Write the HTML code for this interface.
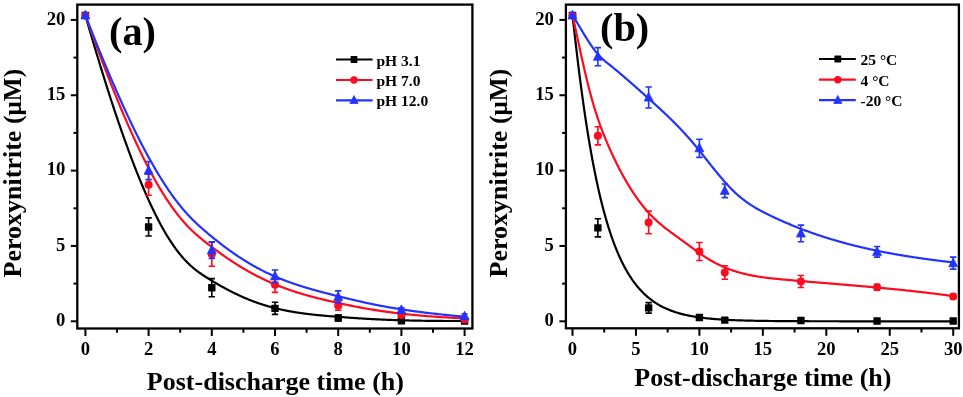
<!DOCTYPE html>
<html><head><meta charset="utf-8"><style>
html,body{margin:0;padding:0;background:#fff;}
body{width:963px;height:397px;overflow:hidden;}
svg{display:block;filter:blur(0.35px);}
text{font-family:"Liberation Serif",serif;font-weight:bold;fill:#000;}
.tk{font-size:18.6px;}
.lg{font-size:15.5px;}
.pl{font-size:40.3px;}
.ax{font-size:26px;}
</style></head><body>
<svg width="963" height="397" viewBox="0 0 963 397">
<rect width="963" height="397" fill="#fff"/>
<rect x="77.30" y="4.60" width="395.10" height="323.90" fill="none" stroke="#000" stroke-width="2.3"/>
<path d="M70.80,321.30 H77.30" stroke="#000" stroke-width="2"/>
<text x="65.30" y="326.10" class="tk" text-anchor="end">0</text>
<path d="M70.80,245.95 H77.30" stroke="#000" stroke-width="2"/>
<text x="65.30" y="250.75" class="tk" text-anchor="end">5</text>
<path d="M70.80,170.60 H77.30" stroke="#000" stroke-width="2"/>
<text x="65.30" y="175.40" class="tk" text-anchor="end">10</text>
<path d="M70.80,95.25 H77.30" stroke="#000" stroke-width="2"/>
<text x="65.30" y="100.05" class="tk" text-anchor="end">15</text>
<path d="M70.80,19.90 H77.30" stroke="#000" stroke-width="2"/>
<text x="65.30" y="24.70" class="tk" text-anchor="end">20</text>
<path d="M73.50,283.62 H77.30" stroke="#000" stroke-width="2"/>
<path d="M73.50,208.28 H77.30" stroke="#000" stroke-width="2"/>
<path d="M73.50,132.93 H77.30" stroke="#000" stroke-width="2"/>
<path d="M73.50,57.57 H77.30" stroke="#000" stroke-width="2"/>
<path d="M85.40,328.50 V336.00" stroke="#000" stroke-width="2"/>
<path d="M148.60,328.50 V336.00" stroke="#000" stroke-width="2"/>
<path d="M211.80,328.50 V336.00" stroke="#000" stroke-width="2"/>
<path d="M275.00,328.50 V336.00" stroke="#000" stroke-width="2"/>
<path d="M338.20,328.50 V336.00" stroke="#000" stroke-width="2"/>
<path d="M401.40,328.50 V336.00" stroke="#000" stroke-width="2"/>
<path d="M464.60,328.50 V336.00" stroke="#000" stroke-width="2"/>
<path d="M117.00,328.50 V332.70" stroke="#000" stroke-width="2"/>
<path d="M180.20,328.50 V332.70" stroke="#000" stroke-width="2"/>
<path d="M243.40,328.50 V332.70" stroke="#000" stroke-width="2"/>
<path d="M306.60,328.50 V332.70" stroke="#000" stroke-width="2"/>
<path d="M369.80,328.50 V332.70" stroke="#000" stroke-width="2"/>
<path d="M433.00,328.50 V332.70" stroke="#000" stroke-width="2"/>
<text x="85.40" y="355.30" class="tk" text-anchor="middle">0</text>
<text x="148.60" y="355.30" class="tk" text-anchor="middle">2</text>
<text x="211.80" y="355.30" class="tk" text-anchor="middle">4</text>
<text x="275.00" y="355.30" class="tk" text-anchor="middle">6</text>
<text x="338.20" y="355.30" class="tk" text-anchor="middle">8</text>
<text x="401.40" y="355.30" class="tk" text-anchor="middle">10</text>
<text x="464.60" y="355.30" class="tk" text-anchor="middle">12</text>
<path d="M85.40,15.38 L86.91,20.65 L88.42,25.84 L89.91,30.96 L91.38,36.01 L92.85,40.98 L94.30,45.88 L95.75,50.71 L97.18,55.47 L98.60,60.15 L100.00,64.77 L101.40,69.31 L102.78,73.79 L104.16,78.20 L105.52,82.54 L106.87,86.81 L108.21,91.02 L109.54,95.15 L110.86,99.23 L112.17,103.24 L113.47,107.18 L114.76,111.06 L116.03,114.88 L117.30,118.63 L118.55,122.32 L119.80,125.95 L121.04,129.52 L122.26,133.03 L123.48,136.48 L124.68,139.87 L125.88,143.20 L127.07,146.47 L128.24,149.69 L129.41,152.84 L130.57,155.94 L131.71,158.99 L132.85,161.98 L133.98,164.92 L135.10,167.80 L136.21,170.63 L137.32,173.40 L138.41,176.13 L139.49,178.80 L140.57,181.42 L141.64,183.99 L142.69,186.51 L143.74,188.98 L144.78,191.40 L145.82,193.77 L146.84,196.10 L147.86,198.37 L148.87,200.61 L149.87,202.79 L150.86,204.93 L151.84,207.03 L152.82,209.08 L153.79,211.09 L154.75,213.05 L155.71,214.97 L156.65,216.85 L157.59,218.69 L158.52,220.49 L159.45,222.25 L160.36,223.97 L161.27,225.65 L162.18,227.29 L163.07,228.89 L163.96,230.46 L164.85,231.99 L165.72,233.48 L166.59,234.94 L167.46,236.37 L168.31,237.75 L169.16,239.11 L170.01,240.43 L170.85,241.72 L171.68,242.98 L172.50,244.21 L173.32,245.40 L174.14,246.57 L174.95,247.70 L175.75,248.81 L176.55,249.89 L177.34,250.94 L178.12,251.96 L178.90,252.95 L179.68,253.92 L180.45,254.87 L181.22,255.79 L181.98,256.68 L182.73,257.55 L183.48,258.40 L184.23,259.23 L184.97,260.03 L185.71,260.81 L186.44,261.57 L187.17,262.31 L187.89,263.03 L188.61,263.73 L189.32,264.41 L190.03,265.08 L190.74,265.72 L191.44,266.35 L192.14,266.97 L192.83,267.56 L193.53,268.15 L194.21,268.72 L194.90,269.27 L195.58,269.81 L196.25,270.34 L196.93,270.85 L197.60,271.36 L198.27,271.85 L198.93,272.33 L199.59,272.81 L200.25,273.27 L200.91,273.73 L201.56,274.17 L202.21,274.61 L202.86,275.04 L203.50,275.47 L204.14,275.89 L204.78,276.30 L205.42,276.71 L206.06,277.12 L206.69,277.52 L207.32,277.92 L207.95,278.31 L208.58,278.71 L209.21,279.10 L209.83,279.48 L210.45,279.87 L211.07,280.25 L211.69,280.63 L212.31,281.00 L212.92,281.37 L213.53,281.74 L214.14,282.11 L214.75,282.47 L215.36,282.83 L215.96,283.19 L216.57,283.54 L217.17,283.89 L217.77,284.24 L218.37,284.59 L218.96,284.93 L219.56,285.27 L220.15,285.61 L220.74,285.95 L221.33,286.28 L221.92,286.61 L222.51,286.93 L223.09,287.26 L223.67,287.58 L224.26,287.90 L224.84,288.21 L225.41,288.53 L225.99,288.84 L226.57,289.15 L227.14,289.45 L227.71,289.75 L228.28,290.05 L228.85,290.35 L229.42,290.65 L229.99,290.94 L230.55,291.23 L231.12,291.52 L231.68,291.80 L232.24,292.08 L232.80,292.36 L233.36,292.64 L233.92,292.92 L234.47,293.19 L235.03,293.46 L235.58,293.73 L236.14,293.99 L236.69,294.26 L237.24,294.52 L237.79,294.78 L238.33,295.03 L238.88,295.29 L239.43,295.54 L239.97,295.79 L240.51,296.03 L241.05,296.28 L241.60,296.52 L242.14,296.76 L242.67,297.00 L243.21,297.24 L243.75,297.47 L244.29,297.70 L244.82,297.93 L245.35,298.16 L245.89,298.38 L246.42,298.61 L246.95,298.83 L247.48,299.05 L248.01,299.26 L248.54,299.48 L249.07,299.69 L249.59,299.90 L250.12,300.11 L250.65,300.32 L251.17,300.52 L251.69,300.72 L252.22,300.93 L252.74,301.12 L253.26,301.32 L253.78,301.52 L254.30,301.71 L254.82,301.90 L255.34,302.09 L255.86,302.28 L256.38,302.46 L256.89,302.65 L257.41,302.83 L257.93,303.01 L258.44,303.19 L258.96,303.36 L259.47,303.54 L259.99,303.71 L260.50,303.88 L261.01,304.05 L261.52,304.22 L262.04,304.39 L262.55,304.55 L263.06,304.71 L263.57,304.88 L264.08,305.04 L264.59,305.19 L265.10,305.35 L265.61,305.51 L266.12,305.66 L266.63,305.81 L267.14,305.96 L267.65,306.11 L268.15,306.26 L268.66,306.40 L269.17,306.55 L269.68,306.69 L270.18,306.83 L270.69,306.97 L271.20,307.11 L271.71,307.24 L272.21,307.38 L272.72,307.51 L273.23,307.65 L273.73,307.78 L274.24,307.91 L274.75,308.04 L275.25,308.16 L275.76,308.29 L276.27,308.42 L276.77,308.54 L277.28,308.66 L277.79,308.78 L278.29,308.90 L278.80,309.02 L279.31,309.14 L279.82,309.25 L280.32,309.37 L280.83,309.48 L281.34,309.59 L281.85,309.71 L282.35,309.82 L282.86,309.92 L283.37,310.03 L283.88,310.14 L284.39,310.24 L284.90,310.35 L285.41,310.45 L285.92,310.55 L286.43,310.66 L286.94,310.76 L287.45,310.85 L287.96,310.95 L288.48,311.05 L288.99,311.15 L289.50,311.24 L290.01,311.33 L290.53,311.43 L291.04,311.52 L291.56,311.61 L292.07,311.70 L292.59,311.79 L293.11,311.88 L293.62,311.96 L294.14,312.05 L294.66,312.13 L295.18,312.22 L295.70,312.30 L296.22,312.38 L296.74,312.47 L297.26,312.55 L297.78,312.63 L298.31,312.71 L298.83,312.78 L299.35,312.86 L299.88,312.94 L300.41,313.01 L300.93,313.09 L301.46,313.16 L301.99,313.24 L302.52,313.31 L303.05,313.38 L303.58,313.45 L304.11,313.52 L304.65,313.59 L305.18,313.66 L305.71,313.73 L306.25,313.80 L306.79,313.87 L307.33,313.93 L307.86,314.00 L308.40,314.07 L308.95,314.13 L309.49,314.19 L310.03,314.26 L310.57,314.32 L311.12,314.38 L311.67,314.44 L312.21,314.51 L312.76,314.57 L313.31,314.63 L313.86,314.69 L314.42,314.74 L314.97,314.80 L315.53,314.86 L316.08,314.92 L316.64,314.98 L317.20,315.03 L317.76,315.09 L318.32,315.14 L318.88,315.20 L319.45,315.25 L320.01,315.31 L320.58,315.36 L321.15,315.42 L321.72,315.47 L322.29,315.52 L322.86,315.57 L323.43,315.63 L324.01,315.68 L324.59,315.73 L325.16,315.78 L325.74,315.83 L326.33,315.88 L326.91,315.93 L327.49,315.98 L328.08,316.03 L328.67,316.08 L329.26,316.13 L329.85,316.18 L330.44,316.23 L331.04,316.28 L331.63,316.33 L332.23,316.37 L332.83,316.42 L333.43,316.47 L334.04,316.52 L334.64,316.57 L335.25,316.61 L335.86,316.66 L336.47,316.71 L337.08,316.75 L337.69,316.80 L338.31,316.85 L338.93,316.89 L339.55,316.94 L340.17,316.99 L340.79,317.04 L341.42,317.08 L342.05,317.13 L342.68,317.18 L343.31,317.22 L343.94,317.27 L344.58,317.32 L345.22,317.36 L345.86,317.41 L346.50,317.46 L347.14,317.50 L347.79,317.55 L348.44,317.60 L349.09,317.64 L349.75,317.69 L350.41,317.74 L351.07,317.78 L351.73,317.83 L352.40,317.87 L353.07,317.92 L353.75,317.97 L354.42,318.01 L355.10,318.06 L355.79,318.10 L356.47,318.15 L357.17,318.20 L357.86,318.24 L358.56,318.29 L359.26,318.33 L359.97,318.38 L360.68,318.42 L361.39,318.47 L362.11,318.51 L362.83,318.56 L363.56,318.60 L364.29,318.65 L365.03,318.69 L365.77,318.73 L366.52,318.78 L367.27,318.82 L368.02,318.86 L368.78,318.91 L369.55,318.95 L370.32,318.99 L371.10,319.03 L371.88,319.07 L372.66,319.12 L373.45,319.16 L374.25,319.20 L375.05,319.24 L375.86,319.28 L376.68,319.32 L377.50,319.36 L378.32,319.40 L379.15,319.44 L379.99,319.48 L380.84,319.52 L381.69,319.56 L382.54,319.59 L383.41,319.63 L384.28,319.67 L385.15,319.71 L386.04,319.74 L386.93,319.78 L387.82,319.81 L388.73,319.85 L389.64,319.88 L390.55,319.92 L391.48,319.95 L392.41,319.99 L393.35,320.02 L394.29,320.05 L395.25,320.09 L396.21,320.12 L397.18,320.15 L398.16,320.18 L399.14,320.21 L400.13,320.24 L401.13,320.27 L402.14,320.30 L403.16,320.33 L404.18,320.36 L405.22,320.39 L406.26,320.41 L407.31,320.44 L408.36,320.47 L409.43,320.49 L410.51,320.52 L411.59,320.54 L412.68,320.57 L413.79,320.59 L414.90,320.61 L416.02,320.63 L417.15,320.66 L418.29,320.68 L419.43,320.70 L420.59,320.72 L421.76,320.74 L422.93,320.76 L424.12,320.77 L425.32,320.79 L426.52,320.81 L427.74,320.83 L428.96,320.84 L430.20,320.86 L431.45,320.87 L432.70,320.88 L433.97,320.90 L435.24,320.91 L436.53,320.92 L437.83,320.93 L439.14,320.94 L440.46,320.95 L441.79,320.96 L443.13,320.97 L444.48,320.98 L445.84,320.98 L447.22,320.99 L448.60,320.99 L450.00,321.00 L451.40,321.00 L452.82,321.00 L454.25,321.01 L455.70,321.01 L457.15,321.01 L458.62,321.01 L460.09,321.01 L461.58,321.00 L463.09,321.00 L464.60,321.00" stroke="#000000" stroke-width="2.2" fill="none"/>
<path d="M85.40,15.38 L86.91,19.63 L88.42,23.83 L89.91,27.97 L91.38,32.05 L92.85,36.08 L94.30,40.05 L95.75,43.97 L97.18,47.83 L98.60,51.64 L100.00,55.40 L101.40,59.10 L102.78,62.75 L104.16,66.34 L105.52,69.89 L106.87,73.38 L108.21,76.83 L109.54,80.22 L110.86,83.56 L112.17,86.86 L113.47,90.10 L114.76,93.29 L116.03,96.44 L117.30,99.54 L118.55,102.59 L119.80,105.59 L121.04,108.55 L122.26,111.46 L123.48,114.33 L124.68,117.15 L125.88,119.92 L127.07,122.65 L128.24,125.34 L129.41,127.99 L130.57,130.59 L131.71,133.14 L132.85,135.66 L133.98,138.13 L135.10,140.56 L136.21,142.95 L137.32,145.31 L138.41,147.62 L139.49,149.89 L140.57,152.12 L141.64,154.31 L142.69,156.47 L143.74,158.58 L144.78,160.66 L145.82,162.70 L146.84,164.71 L147.86,166.68 L148.87,168.61 L149.87,170.51 L150.86,172.37 L151.84,174.20 L152.82,176.00 L153.79,177.76 L154.75,179.48 L155.71,181.18 L156.65,182.84 L157.59,184.47 L158.52,186.07 L159.45,187.64 L160.36,189.18 L161.27,190.69 L162.18,192.17 L163.07,193.62 L163.96,195.04 L164.85,196.43 L165.72,197.80 L166.59,199.13 L167.46,200.44 L168.31,201.73 L169.16,202.98 L170.01,204.21 L170.85,205.42 L171.68,206.60 L172.50,207.76 L173.32,208.89 L174.14,210.00 L174.95,211.09 L175.75,212.15 L176.55,213.19 L177.34,214.21 L178.12,215.21 L178.90,216.18 L179.68,217.14 L180.45,218.08 L181.22,218.99 L181.98,219.89 L182.73,220.77 L183.48,221.63 L184.23,222.47 L184.97,223.30 L185.71,224.10 L186.44,224.89 L187.17,225.67 L187.89,226.43 L188.61,227.17 L189.32,227.90 L190.03,228.62 L190.74,229.32 L191.44,230.00 L192.14,230.68 L192.83,231.34 L193.53,231.99 L194.21,232.62 L194.90,233.25 L195.58,233.86 L196.25,234.47 L196.93,235.06 L197.60,235.65 L198.27,236.22 L198.93,236.79 L199.59,237.35 L200.25,237.90 L200.91,238.44 L201.56,238.97 L202.21,239.50 L202.86,240.03 L203.50,240.54 L204.14,241.05 L204.78,241.56 L205.42,242.06 L206.06,242.56 L206.69,243.06 L207.32,243.55 L207.95,244.04 L208.58,244.52 L209.21,245.00 L209.83,245.48 L210.45,245.96 L211.07,246.43 L211.69,246.90 L212.31,247.37 L212.92,247.83 L213.53,248.29 L214.14,248.74 L214.75,249.20 L215.36,249.65 L215.96,250.10 L216.57,250.54 L217.17,250.98 L217.77,251.42 L218.37,251.86 L218.96,252.29 L219.56,252.72 L220.15,253.15 L220.74,253.57 L221.33,253.99 L221.92,254.41 L222.51,254.83 L223.09,255.24 L223.67,255.65 L224.26,256.06 L224.84,256.46 L225.41,256.86 L225.99,257.26 L226.57,257.66 L227.14,258.05 L227.71,258.44 L228.28,258.83 L228.85,259.21 L229.42,259.59 L229.99,259.97 L230.55,260.35 L231.12,260.73 L231.68,261.10 L232.24,261.47 L232.80,261.83 L233.36,262.20 L233.92,262.56 L234.47,262.92 L235.03,263.28 L235.58,263.63 L236.14,263.98 L236.69,264.33 L237.24,264.68 L237.79,265.02 L238.33,265.36 L238.88,265.70 L239.43,266.04 L239.97,266.38 L240.51,266.71 L241.05,267.04 L241.60,267.37 L242.14,267.69 L242.67,268.01 L243.21,268.33 L243.75,268.65 L244.29,268.97 L244.82,269.28 L245.35,269.60 L245.89,269.91 L246.42,270.21 L246.95,270.52 L247.48,270.82 L248.01,271.12 L248.54,271.42 L249.07,271.72 L249.59,272.01 L250.12,272.31 L250.65,272.60 L251.17,272.89 L251.69,273.17 L252.22,273.46 L252.74,273.74 L253.26,274.02 L253.78,274.30 L254.30,274.58 L254.82,274.85 L255.34,275.12 L255.86,275.40 L256.38,275.66 L256.89,275.93 L257.41,276.20 L257.93,276.46 L258.44,276.72 L258.96,276.98 L259.47,277.24 L259.99,277.50 L260.50,277.75 L261.01,278.00 L261.52,278.26 L262.04,278.51 L262.55,278.75 L263.06,279.00 L263.57,279.24 L264.08,279.49 L264.59,279.73 L265.10,279.97 L265.61,280.21 L266.12,280.44 L266.63,280.68 L267.14,280.91 L267.65,281.14 L268.15,281.37 L268.66,281.60 L269.17,281.83 L269.68,282.05 L270.18,282.28 L270.69,282.50 L271.20,282.72 L271.71,282.94 L272.21,283.16 L272.72,283.38 L273.23,283.59 L273.73,283.81 L274.24,284.02 L274.75,284.23 L275.25,284.44 L275.76,284.65 L276.27,284.86 L276.77,285.07 L277.28,285.27 L277.79,285.48 L278.29,285.68 L278.80,285.88 L279.31,286.08 L279.82,286.28 L280.32,286.48 L280.83,286.68 L281.34,286.87 L281.85,287.07 L282.35,287.26 L282.86,287.45 L283.37,287.64 L283.88,287.83 L284.39,288.02 L284.90,288.21 L285.41,288.40 L285.92,288.58 L286.43,288.77 L286.94,288.95 L287.45,289.14 L287.96,289.32 L288.48,289.50 L288.99,289.68 L289.50,289.86 L290.01,290.03 L290.53,290.21 L291.04,290.39 L291.56,290.56 L292.07,290.74 L292.59,290.91 L293.11,291.08 L293.62,291.25 L294.14,291.42 L294.66,291.59 L295.18,291.76 L295.70,291.93 L296.22,292.09 L296.74,292.26 L297.26,292.42 L297.78,292.59 L298.31,292.75 L298.83,292.92 L299.35,293.08 L299.88,293.24 L300.41,293.40 L300.93,293.56 L301.46,293.72 L301.99,293.88 L302.52,294.03 L303.05,294.19 L303.58,294.35 L304.11,294.50 L304.65,294.66 L305.18,294.81 L305.71,294.96 L306.25,295.12 L306.79,295.27 L307.33,295.42 L307.86,295.57 L308.40,295.72 L308.95,295.87 L309.49,296.02 L310.03,296.17 L310.57,296.32 L311.12,296.46 L311.67,296.61 L312.21,296.76 L312.76,296.90 L313.31,297.05 L313.86,297.19 L314.42,297.34 L314.97,297.48 L315.53,297.63 L316.08,297.77 L316.64,297.91 L317.20,298.05 L317.76,298.20 L318.32,298.34 L318.88,298.48 L319.45,298.62 L320.01,298.76 L320.58,298.90 L321.15,299.04 L321.72,299.18 L322.29,299.32 L322.86,299.46 L323.43,299.59 L324.01,299.73 L324.59,299.87 L325.16,300.01 L325.74,300.15 L326.33,300.28 L326.91,300.42 L327.49,300.56 L328.08,300.69 L328.67,300.83 L329.26,300.97 L329.85,301.10 L330.44,301.24 L331.04,301.37 L331.63,301.51 L332.23,301.64 L332.83,301.78 L333.43,301.91 L334.04,302.05 L334.64,302.18 L335.25,302.32 L335.86,302.45 L336.47,302.59 L337.08,302.72 L337.69,302.86 L338.31,302.99 L338.93,303.13 L339.55,303.26 L340.17,303.40 L340.79,303.53 L341.42,303.66 L342.05,303.80 L342.68,303.93 L343.31,304.07 L343.94,304.20 L344.58,304.34 L345.22,304.47 L345.86,304.61 L346.50,304.74 L347.14,304.88 L347.79,305.01 L348.44,305.15 L349.09,305.28 L349.75,305.42 L350.41,305.56 L351.07,305.69 L351.73,305.83 L352.40,305.96 L353.07,306.10 L353.75,306.23 L354.42,306.37 L355.10,306.50 L355.79,306.63 L356.47,306.77 L357.17,306.90 L357.86,307.04 L358.56,307.17 L359.26,307.31 L359.97,307.44 L360.68,307.57 L361.39,307.71 L362.11,307.84 L362.83,307.97 L363.56,308.11 L364.29,308.24 L365.03,308.37 L365.77,308.51 L366.52,308.64 L367.27,308.77 L368.02,308.90 L368.78,309.03 L369.55,309.16 L370.32,309.29 L371.10,309.42 L371.88,309.55 L372.66,309.68 L373.45,309.81 L374.25,309.94 L375.05,310.07 L375.86,310.20 L376.68,310.33 L377.50,310.46 L378.32,310.58 L379.15,310.71 L379.99,310.84 L380.84,310.96 L381.69,311.09 L382.54,311.21 L383.41,311.34 L384.28,311.46 L385.15,311.59 L386.04,311.71 L386.93,311.83 L387.82,311.96 L388.73,312.08 L389.64,312.20 L390.55,312.32 L391.48,312.44 L392.41,312.56 L393.35,312.68 L394.29,312.80 L395.25,312.92 L396.21,313.03 L397.18,313.15 L398.16,313.27 L399.14,313.38 L400.13,313.50 L401.13,313.61 L402.14,313.73 L403.16,313.84 L404.18,313.95 L405.22,314.06 L406.26,314.17 L407.31,314.28 L408.36,314.39 L409.43,314.50 L410.51,314.61 L411.59,314.72 L412.68,314.83 L413.79,314.93 L414.90,315.04 L416.02,315.14 L417.15,315.25 L418.29,315.35 L419.43,315.45 L420.59,315.55 L421.76,315.65 L422.93,315.75 L424.12,315.85 L425.32,315.95 L426.52,316.05 L427.74,316.14 L428.96,316.24 L430.20,316.33 L431.45,316.43 L432.70,316.52 L433.97,316.61 L435.24,316.70 L436.53,316.79 L437.83,316.88 L439.14,316.97 L440.46,317.05 L441.79,317.14 L443.13,317.23 L444.48,317.31 L445.84,317.39 L447.22,317.47 L448.60,317.56 L450.00,317.64 L451.40,317.71 L452.82,317.79 L454.25,317.87 L455.70,317.95 L457.15,318.02 L458.62,318.09 L460.09,318.17 L461.58,318.24 L463.09,318.31 L464.60,318.38" stroke="#ff0a1e" stroke-width="2.2" fill="none"/>
<path d="M85.40,15.38 L86.91,19.27 L88.42,23.11 L89.91,26.90 L91.38,30.64 L92.85,34.34 L94.30,37.98 L95.75,41.58 L97.18,45.13 L98.60,48.63 L100.00,52.08 L101.40,55.49 L102.78,58.85 L104.16,62.16 L105.52,65.43 L106.87,68.65 L108.21,71.83 L109.54,74.97 L110.86,78.06 L112.17,81.10 L113.47,84.10 L114.76,87.06 L116.03,89.98 L117.30,92.86 L118.55,95.69 L119.80,98.48 L121.04,101.23 L122.26,103.94 L123.48,106.61 L124.68,109.24 L125.88,111.83 L127.07,114.38 L128.24,116.89 L129.41,119.36 L130.57,121.80 L131.71,124.19 L132.85,126.55 L133.98,128.87 L135.10,131.16 L136.21,133.41 L137.32,135.62 L138.41,137.80 L139.49,139.94 L140.57,142.05 L141.64,144.13 L142.69,146.17 L143.74,148.17 L144.78,150.15 L145.82,152.09 L146.84,153.99 L147.86,155.87 L148.87,157.71 L149.87,159.53 L150.86,161.31 L151.84,163.06 L152.82,164.78 L153.79,166.47 L154.75,168.13 L155.71,169.76 L156.65,171.37 L157.59,172.94 L158.52,174.49 L159.45,176.01 L160.36,177.50 L161.27,178.96 L162.18,180.40 L163.07,181.82 L163.96,183.20 L164.85,184.56 L165.72,185.90 L166.59,187.21 L167.46,188.50 L168.31,189.76 L169.16,191.01 L170.01,192.22 L170.85,193.42 L171.68,194.59 L172.50,195.74 L173.32,196.87 L174.14,197.98 L174.95,199.06 L175.75,200.13 L176.55,201.17 L177.34,202.20 L178.12,203.21 L178.90,204.19 L179.68,205.16 L180.45,206.11 L181.22,207.05 L181.98,207.96 L182.73,208.86 L183.48,209.74 L184.23,210.61 L184.97,211.46 L185.71,212.29 L186.44,213.11 L187.17,213.92 L187.89,214.70 L188.61,215.48 L189.32,216.24 L190.03,216.99 L190.74,217.72 L191.44,218.45 L192.14,219.16 L192.83,219.86 L193.53,220.54 L194.21,221.22 L194.90,221.89 L195.58,222.54 L196.25,223.19 L196.93,223.82 L197.60,224.45 L198.27,225.06 L198.93,225.67 L199.59,226.27 L200.25,226.87 L200.91,227.45 L201.56,228.03 L202.21,228.60 L202.86,229.17 L203.50,229.73 L204.14,230.28 L204.78,230.83 L205.42,231.38 L206.06,231.92 L206.69,232.46 L207.32,232.99 L207.95,233.52 L208.58,234.04 L209.21,234.57 L209.83,235.09 L210.45,235.60 L211.07,236.11 L211.69,236.62 L212.31,237.12 L212.92,237.62 L213.53,238.12 L214.14,238.62 L214.75,239.11 L215.36,239.59 L215.96,240.08 L216.57,240.56 L217.17,241.03 L217.77,241.51 L218.37,241.98 L218.96,242.44 L219.56,242.91 L220.15,243.37 L220.74,243.82 L221.33,244.28 L221.92,244.73 L222.51,245.18 L223.09,245.62 L223.67,246.06 L224.26,246.50 L224.84,246.93 L225.41,247.36 L225.99,247.79 L226.57,248.22 L227.14,248.64 L227.71,249.06 L228.28,249.47 L228.85,249.89 L229.42,250.30 L229.99,250.70 L230.55,251.11 L231.12,251.51 L231.68,251.91 L232.24,252.30 L232.80,252.70 L233.36,253.09 L233.92,253.47 L234.47,253.86 L235.03,254.24 L235.58,254.62 L236.14,254.99 L236.69,255.36 L237.24,255.73 L237.79,256.10 L238.33,256.47 L238.88,256.83 L239.43,257.19 L239.97,257.54 L240.51,257.90 L241.05,258.25 L241.60,258.60 L242.14,258.94 L242.67,259.29 L243.21,259.63 L243.75,259.97 L244.29,260.30 L244.82,260.64 L245.35,260.97 L245.89,261.30 L246.42,261.62 L246.95,261.95 L247.48,262.27 L248.01,262.59 L248.54,262.90 L249.07,263.22 L249.59,263.53 L250.12,263.84 L250.65,264.15 L251.17,264.45 L251.69,264.76 L252.22,265.06 L252.74,265.36 L253.26,265.65 L253.78,265.95 L254.30,266.24 L254.82,266.53 L255.34,266.82 L255.86,267.10 L256.38,267.39 L256.89,267.67 L257.41,267.95 L257.93,268.22 L258.44,268.50 L258.96,268.77 L259.47,269.04 L259.99,269.31 L260.50,269.58 L261.01,269.85 L261.52,270.11 L262.04,270.37 L262.55,270.63 L263.06,270.89 L263.57,271.15 L264.08,271.40 L264.59,271.65 L265.10,271.91 L265.61,272.15 L266.12,272.40 L266.63,272.65 L267.14,272.89 L267.65,273.13 L268.15,273.38 L268.66,273.61 L269.17,273.85 L269.68,274.09 L270.18,274.32 L270.69,274.55 L271.20,274.79 L271.71,275.02 L272.21,275.24 L272.72,275.47 L273.23,275.70 L273.73,275.92 L274.24,276.14 L274.75,276.36 L275.25,276.58 L275.76,276.80 L276.27,277.02 L276.77,277.23 L277.28,277.45 L277.79,277.66 L278.29,277.87 L278.80,278.08 L279.31,278.29 L279.82,278.49 L280.32,278.70 L280.83,278.91 L281.34,279.11 L281.85,279.31 L282.35,279.51 L282.86,279.71 L283.37,279.91 L283.88,280.11 L284.39,280.31 L284.90,280.50 L285.41,280.70 L285.92,280.89 L286.43,281.08 L286.94,281.27 L287.45,281.46 L287.96,281.65 L288.48,281.84 L288.99,282.02 L289.50,282.21 L290.01,282.40 L290.53,282.58 L291.04,282.76 L291.56,282.94 L292.07,283.12 L292.59,283.30 L293.11,283.48 L293.62,283.66 L294.14,283.84 L294.66,284.02 L295.18,284.19 L295.70,284.37 L296.22,284.54 L296.74,284.71 L297.26,284.89 L297.78,285.06 L298.31,285.23 L298.83,285.40 L299.35,285.57 L299.88,285.74 L300.41,285.90 L300.93,286.07 L301.46,286.24 L301.99,286.40 L302.52,286.57 L303.05,286.73 L303.58,286.90 L304.11,287.06 L304.65,287.22 L305.18,287.38 L305.71,287.54 L306.25,287.71 L306.79,287.87 L307.33,288.03 L307.86,288.18 L308.40,288.34 L308.95,288.50 L309.49,288.66 L310.03,288.82 L310.57,288.97 L311.12,289.13 L311.67,289.29 L312.21,289.44 L312.76,289.60 L313.31,289.75 L313.86,289.91 L314.42,290.06 L314.97,290.21 L315.53,290.37 L316.08,290.52 L316.64,290.67 L317.20,290.83 L317.76,290.98 L318.32,291.13 L318.88,291.28 L319.45,291.44 L320.01,291.59 L320.58,291.74 L321.15,291.89 L321.72,292.04 L322.29,292.19 L322.86,292.34 L323.43,292.49 L324.01,292.64 L324.59,292.79 L325.16,292.94 L325.74,293.09 L326.33,293.24 L326.91,293.39 L327.49,293.54 L328.08,293.69 L328.67,293.84 L329.26,293.99 L329.85,294.14 L330.44,294.29 L331.04,294.44 L331.63,294.59 L332.23,294.74 L332.83,294.90 L333.43,295.05 L334.04,295.20 L334.64,295.35 L335.25,295.50 L335.86,295.65 L336.47,295.80 L337.08,295.95 L337.69,296.10 L338.31,296.26 L338.93,296.41 L339.55,296.56 L340.17,296.71 L340.79,296.87 L341.42,297.02 L342.05,297.17 L342.68,297.33 L343.31,297.48 L343.94,297.64 L344.58,297.79 L345.22,297.95 L345.86,298.10 L346.50,298.26 L347.14,298.42 L347.79,298.57 L348.44,298.73 L349.09,298.89 L349.75,299.05 L350.41,299.20 L351.07,299.36 L351.73,299.52 L352.40,299.68 L353.07,299.84 L353.75,300.00 L354.42,300.16 L355.10,300.32 L355.79,300.48 L356.47,300.64 L357.17,300.80 L357.86,300.96 L358.56,301.12 L359.26,301.28 L359.97,301.44 L360.68,301.60 L361.39,301.76 L362.11,301.92 L362.83,302.08 L363.56,302.24 L364.29,302.41 L365.03,302.57 L365.77,302.73 L366.52,302.89 L367.27,303.05 L368.02,303.21 L368.78,303.38 L369.55,303.54 L370.32,303.70 L371.10,303.86 L371.88,304.02 L372.66,304.18 L373.45,304.35 L374.25,304.51 L375.05,304.67 L375.86,304.83 L376.68,304.99 L377.50,305.15 L378.32,305.32 L379.15,305.48 L379.99,305.64 L380.84,305.80 L381.69,305.96 L382.54,306.12 L383.41,306.28 L384.28,306.44 L385.15,306.60 L386.04,306.76 L386.93,306.92 L387.82,307.08 L388.73,307.24 L389.64,307.40 L390.55,307.56 L391.48,307.72 L392.41,307.88 L393.35,308.04 L394.29,308.20 L395.25,308.36 L396.21,308.52 L397.18,308.67 L398.16,308.83 L399.14,308.99 L400.13,309.15 L401.13,309.30 L402.14,309.46 L403.16,309.61 L404.18,309.77 L405.22,309.92 L406.26,310.08 L407.31,310.23 L408.36,310.39 L409.43,310.54 L410.51,310.70 L411.59,310.85 L412.68,311.00 L413.79,311.15 L414.90,311.31 L416.02,311.46 L417.15,311.61 L418.29,311.76 L419.43,311.91 L420.59,312.06 L421.76,312.21 L422.93,312.36 L424.12,312.50 L425.32,312.65 L426.52,312.80 L427.74,312.95 L428.96,313.09 L430.20,313.24 L431.45,313.38 L432.70,313.53 L433.97,313.67 L435.24,313.81 L436.53,313.96 L437.83,314.10 L439.14,314.24 L440.46,314.38 L441.79,314.52 L443.13,314.66 L444.48,314.80 L445.84,314.94 L447.22,315.08 L448.60,315.21 L450.00,315.35 L451.40,315.49 L452.82,315.62 L454.25,315.75 L455.70,315.89 L457.15,316.02 L458.62,316.15 L460.09,316.28 L461.58,316.41 L463.09,316.54 L464.60,316.67" stroke="#2233ff" stroke-width="2.2" fill="none"/>

<rect x="81.70" y="11.68" width="7.40" height="7.40" rx="0.6" fill="#000000"/>
<path d="M148.60,217.92 V236.00 M145.40,217.92 H151.80 M145.40,236.00 H151.80" stroke="#000000" stroke-width="1.6" fill="none"/>
<rect x="144.90" y="223.26" width="7.40" height="7.40" rx="0.6" fill="#000000"/>
<path d="M211.80,278.65 V296.74 M208.60,278.65 H215.00 M208.60,296.74 H215.00" stroke="#000000" stroke-width="1.6" fill="none"/>
<rect x="208.10" y="283.99" width="7.40" height="7.40" rx="0.6" fill="#000000"/>
<path d="M275.00,302.31 V314.37 M271.80,302.31 H278.20 M271.80,314.37 H278.20" stroke="#000000" stroke-width="1.6" fill="none"/>
<rect x="271.30" y="304.64" width="7.40" height="7.40" rx="0.6" fill="#000000"/>
<path d="M338.20,314.97 V321.00 M335.00,314.97 H341.40 M335.00,321.00 H341.40" stroke="#000000" stroke-width="1.6" fill="none"/>
<rect x="334.50" y="314.28" width="7.40" height="7.40" rx="0.6" fill="#000000"/>

<rect x="397.70" y="317.00" width="7.40" height="7.40" rx="0.6" fill="#000000"/>

<rect x="460.90" y="317.30" width="7.40" height="7.40" rx="0.6" fill="#000000"/>

<circle cx="85.40" cy="15.38" r="4.00" fill="#ff0a1e"/>
<path d="M148.60,174.22 V195.31 M145.40,174.22 H151.80 M145.40,195.31 H151.80" stroke="#ff0a1e" stroke-width="1.6" fill="none"/>
<circle cx="148.60" cy="184.77" r="4.00" fill="#ff0a1e"/>
<path d="M211.80,242.18 V266.29 M208.60,242.18 H215.00 M208.60,266.29 H215.00" stroke="#ff0a1e" stroke-width="1.6" fill="none"/>
<circle cx="211.80" cy="254.24" r="4.00" fill="#ff0a1e"/>
<path d="M275.00,277.30 V292.37 M271.80,277.30 H278.20 M271.80,292.37 H278.20" stroke="#ff0a1e" stroke-width="1.6" fill="none"/>
<circle cx="275.00" cy="284.83" r="4.00" fill="#ff0a1e"/>
<path d="M338.20,301.26 V310.30 M335.00,301.26 H341.40 M335.00,310.30 H341.40" stroke="#ff0a1e" stroke-width="1.6" fill="none"/>
<circle cx="338.20" cy="305.78" r="4.00" fill="#ff0a1e"/>
<path d="M401.40,313.31 V316.93 M398.20,313.31 H404.60 M398.20,316.93 H404.60" stroke="#ff0a1e" stroke-width="1.6" fill="none"/>
<circle cx="401.40" cy="315.12" r="4.00" fill="#ff0a1e"/>
<path d="M464.60,317.98 V321.00 M461.40,317.98 H467.80 M461.40,321.00 H467.80" stroke="#ff0a1e" stroke-width="1.6" fill="none"/>
<circle cx="464.60" cy="319.49" r="4.00" fill="#ff0a1e"/>

<path d="M85.40,10.27 L89.84,18.93 L80.96,18.93 Z" fill="#2233ff" stroke="#2233ff" stroke-width="0.8" stroke-linejoin="round"/>
<path d="M148.60,161.56 V179.64 M145.40,161.56 H151.80 M145.40,179.64 H151.80" stroke="#2233ff" stroke-width="1.6" fill="none"/>
<path d="M148.60,165.49 L153.04,174.15 L144.16,174.15 Z" fill="#2233ff" stroke="#2233ff" stroke-width="0.8" stroke-linejoin="round"/>
<path d="M211.80,241.88 V258.46 M208.60,241.88 H215.00 M208.60,258.46 H215.00" stroke="#2233ff" stroke-width="1.6" fill="none"/>
<path d="M211.80,245.06 L216.24,253.72 L207.36,253.72 Z" fill="#2233ff" stroke="#2233ff" stroke-width="0.8" stroke-linejoin="round"/>
<path d="M275.00,270.06 V282.72 M271.80,270.06 H278.20 M271.80,282.72 H278.20" stroke="#2233ff" stroke-width="1.6" fill="none"/>
<path d="M275.00,271.29 L279.44,279.94 L270.56,279.94 Z" fill="#2233ff" stroke="#2233ff" stroke-width="0.8" stroke-linejoin="round"/>
<path d="M338.20,290.86 V302.91 M335.00,290.86 H341.40 M335.00,302.91 H341.40" stroke="#2233ff" stroke-width="1.6" fill="none"/>
<path d="M338.20,291.78 L342.64,300.44 L333.76,300.44 Z" fill="#2233ff" stroke="#2233ff" stroke-width="0.8" stroke-linejoin="round"/>
<path d="M401.40,307.74 V312.26 M398.20,307.74 H404.60 M398.20,312.26 H404.60" stroke="#2233ff" stroke-width="1.6" fill="none"/>
<path d="M401.40,304.89 L405.84,313.55 L396.96,313.55 Z" fill="#2233ff" stroke="#2233ff" stroke-width="0.8" stroke-linejoin="round"/>
<path d="M464.60,314.07 V318.59 M461.40,314.07 H467.80 M461.40,318.59 H467.80" stroke="#2233ff" stroke-width="1.6" fill="none"/>
<path d="M464.60,311.22 L469.04,319.88 L460.16,319.88 Z" fill="#2233ff" stroke="#2233ff" stroke-width="0.8" stroke-linejoin="round"/>
<path d="M336.00,59.50 H372.60" stroke="#000000" stroke-width="2.2"/>
<rect x="350.60" y="56.10" width="6.80" height="6.80" rx="0.6" fill="#000000"/>
<text x="376.50" y="65.50" class="lg">pH 3.1</text>
<path d="M336.00,80.00 H372.60" stroke="#ff0a1e" stroke-width="2.2"/>
<circle cx="354.00" cy="80.00" r="3.70" fill="#ff0a1e"/>
<text x="376.50" y="86.00" class="lg">pH 7.0</text>
<path d="M336.00,100.30 H372.60" stroke="#2233ff" stroke-width="2.2"/>
<path d="M354.00,95.61 L358.08,103.56 L349.92,103.56 Z" fill="#2233ff" stroke="#2233ff" stroke-width="0.8" stroke-linejoin="round"/>
<text x="376.50" y="106.30" class="lg">pH 12.0</text>
<text x="109" y="45" class="pl">(a)</text>
<text x="275.4" y="389.8" class="ax" text-anchor="middle">Post-discharge time (h)</text>
<text transform="translate(20.6,0) rotate(-90)" x="-277.4" class="ax">Peroxynitrite (<tspan style="font-size:25.2px">μM)</tspan></text>
<rect x="565.90" y="4.60" width="393.00" height="323.70" fill="none" stroke="#000" stroke-width="2.3"/>
<path d="M559.40,321.30 H565.90" stroke="#000" stroke-width="2"/>
<text x="553.90" y="326.10" class="tk" text-anchor="end">0</text>
<path d="M559.40,245.95 H565.90" stroke="#000" stroke-width="2"/>
<text x="553.90" y="250.75" class="tk" text-anchor="end">5</text>
<path d="M559.40,170.60 H565.90" stroke="#000" stroke-width="2"/>
<text x="553.90" y="175.40" class="tk" text-anchor="end">10</text>
<path d="M559.40,95.25 H565.90" stroke="#000" stroke-width="2"/>
<text x="553.90" y="100.05" class="tk" text-anchor="end">15</text>
<path d="M559.40,19.90 H565.90" stroke="#000" stroke-width="2"/>
<text x="553.90" y="24.70" class="tk" text-anchor="end">20</text>
<path d="M562.10,283.62 H565.90" stroke="#000" stroke-width="2"/>
<path d="M562.10,208.28 H565.90" stroke="#000" stroke-width="2"/>
<path d="M562.10,132.93 H565.90" stroke="#000" stroke-width="2"/>
<path d="M562.10,57.57 H565.90" stroke="#000" stroke-width="2"/>
<path d="M572.50,328.30 V335.80" stroke="#000" stroke-width="2"/>
<path d="M635.95,328.30 V335.80" stroke="#000" stroke-width="2"/>
<path d="M699.40,328.30 V335.80" stroke="#000" stroke-width="2"/>
<path d="M762.85,328.30 V335.80" stroke="#000" stroke-width="2"/>
<path d="M826.30,328.30 V335.80" stroke="#000" stroke-width="2"/>
<path d="M889.75,328.30 V335.80" stroke="#000" stroke-width="2"/>
<path d="M953.20,328.30 V335.80" stroke="#000" stroke-width="2"/>
<path d="M604.23,328.30 V332.50" stroke="#000" stroke-width="2"/>
<path d="M667.67,328.30 V332.50" stroke="#000" stroke-width="2"/>
<path d="M731.12,328.30 V332.50" stroke="#000" stroke-width="2"/>
<path d="M794.58,328.30 V332.50" stroke="#000" stroke-width="2"/>
<path d="M858.02,328.30 V332.50" stroke="#000" stroke-width="2"/>
<path d="M921.47,328.30 V332.50" stroke="#000" stroke-width="2"/>
<text x="572.50" y="355.30" class="tk" text-anchor="middle">0</text>
<text x="635.95" y="355.30" class="tk" text-anchor="middle">5</text>
<text x="699.40" y="355.30" class="tk" text-anchor="middle">10</text>
<text x="762.85" y="355.30" class="tk" text-anchor="middle">15</text>
<text x="826.30" y="355.30" class="tk" text-anchor="middle">20</text>
<text x="889.75" y="355.30" class="tk" text-anchor="middle">25</text>
<text x="953.20" y="355.30" class="tk" text-anchor="middle">30</text>
<path d="M572.50,15.38 L573.45,23.63 L574.41,32.07 L575.36,40.44 L576.32,48.66 L577.27,56.71 L578.22,64.58 L579.18,72.27 L580.13,79.76 L581.09,87.06 L582.04,94.17 L583.00,101.09 L583.95,107.83 L584.90,114.37 L585.86,120.73 L586.81,126.92 L587.77,132.92 L588.72,138.76 L589.67,144.42 L590.63,149.92 L591.58,155.26 L592.54,160.45 L593.49,165.48 L594.45,170.36 L595.40,175.09 L596.35,179.69 L597.31,184.14 L598.26,188.47 L599.22,192.66 L600.17,196.72 L601.12,200.66 L602.08,204.48 L603.03,208.19 L603.99,211.78 L604.94,215.26 L605.89,218.63 L606.85,221.90 L607.80,225.07 L608.76,228.14 L609.71,231.12 L610.67,234.00 L611.62,236.80 L612.57,239.50 L613.53,242.12 L614.48,244.66 L615.44,247.13 L616.39,249.51 L617.34,251.82 L618.30,254.05 L619.25,256.22 L620.21,258.32 L621.16,260.35 L622.12,262.32 L623.07,264.22 L624.02,266.07 L624.98,267.86 L625.93,269.59 L626.89,271.26 L627.84,272.88 L628.79,274.45 L629.75,275.97 L630.70,277.44 L631.66,278.87 L632.61,280.25 L633.56,281.58 L634.52,282.88 L635.47,284.13 L636.43,285.34 L637.38,286.51 L638.34,287.65 L639.29,288.75 L640.24,289.81 L641.20,290.84 L642.15,291.83 L643.11,292.80 L644.06,293.73 L645.01,294.63 L645.97,295.51 L646.92,296.35 L647.88,297.17 L648.83,297.96 L649.78,298.73 L650.74,299.47 L651.69,300.18 L652.65,300.88 L653.60,301.55 L654.56,302.20 L655.51,302.83 L656.46,303.43 L657.42,304.02 L658.37,304.59 L659.33,305.14 L660.28,305.68 L661.23,306.19 L662.19,306.69 L663.14,307.17 L664.10,307.64 L665.05,308.09 L666.01,308.53 L666.96,308.95 L667.91,309.36 L668.87,309.75 L669.82,310.13 L670.78,310.50 L671.73,310.86 L672.68,311.21 L673.64,311.54 L674.59,311.86 L675.55,312.18 L676.50,312.48 L677.45,312.77 L678.41,313.06 L679.36,313.33 L680.32,313.59 L681.27,313.85 L682.23,314.10 L683.18,314.34 L684.13,314.57 L685.09,314.79 L686.04,315.01 L687.00,315.22 L687.95,315.42 L688.90,315.62 L689.86,315.81 L690.81,315.99 L691.77,316.17 L692.72,316.34 L693.68,316.50 L694.63,316.66 L695.58,316.82 L696.54,316.97 L697.49,317.11 L698.45,317.25 L699.40,317.39 L700.35,317.52 L701.31,317.64 L702.26,317.77 L703.22,317.88 L704.17,318.00 L705.12,318.11 L706.08,318.22 L707.03,318.32 L707.99,318.42 L708.94,318.52 L709.90,318.61 L710.85,318.70 L711.80,318.79 L712.76,318.87 L713.71,318.95 L714.67,319.03 L715.62,319.11 L716.57,319.18 L717.53,319.25 L718.48,319.32 L719.44,319.39 L720.39,319.45 L721.35,319.51 L722.30,319.57 L723.25,319.63 L724.21,319.69 L725.16,319.74 L726.12,319.79 L727.07,319.85 L728.02,319.89 L728.98,319.94 L729.93,319.99 L730.89,320.03 L731.84,320.07 L732.79,320.12 L733.75,320.16 L734.70,320.19 L735.66,320.23 L736.61,320.27 L737.57,320.30 L738.52,320.34 L739.47,320.37 L740.43,320.40 L741.38,320.43 L742.34,320.46 L743.29,320.49 L744.24,320.52 L745.20,320.54 L746.15,320.57 L747.11,320.59 L748.06,320.62 L749.02,320.64 L749.97,320.66 L750.92,320.68 L751.88,320.70 L752.83,320.72 L753.79,320.74 L754.74,320.76 L755.69,320.78 L756.65,320.80 L757.60,320.82 L758.56,320.83 L759.51,320.85 L760.46,320.86 L761.42,320.88 L762.37,320.89 L763.33,320.91 L764.28,320.92 L765.24,320.93 L766.19,320.94 L767.14,320.96 L768.10,320.97 L769.05,320.98 L770.01,320.99 L770.96,321.00 L771.91,321.01 L772.87,321.02 L773.82,321.03 L774.78,321.04 L775.73,321.05 L776.68,321.06 L777.64,321.07 L778.59,321.07 L779.55,321.08 L780.50,321.09 L781.46,321.10 L782.41,321.10 L783.36,321.11 L784.32,321.12 L785.27,321.12 L786.23,321.13 L787.18,321.13 L788.13,321.14 L789.09,321.15 L790.04,321.15 L791.00,321.16 L791.95,321.16 L792.91,321.17 L793.86,321.17 L794.81,321.17 L795.77,321.18 L796.72,321.18 L797.68,321.19 L798.63,321.19 L799.58,321.19 L800.54,321.20 L801.49,321.20 L802.45,321.20 L803.40,321.21 L804.35,321.21 L805.31,321.21 L806.26,321.22 L807.22,321.22 L808.17,321.22 L809.13,321.23 L810.08,321.23 L811.03,321.23 L811.99,321.23 L812.94,321.24 L813.90,321.24 L814.85,321.24 L815.80,321.24 L816.76,321.24 L817.71,321.25 L818.67,321.25 L819.62,321.25 L820.58,321.25 L821.53,321.25 L822.48,321.25 L823.44,321.26 L824.39,321.26 L825.35,321.26 L826.30,321.26 L827.25,321.26 L828.21,321.26 L829.16,321.26 L830.12,321.27 L831.07,321.27 L832.02,321.27 L832.98,321.27 L833.93,321.27 L834.89,321.27 L835.84,321.27 L836.80,321.27 L837.75,321.27 L838.70,321.27 L839.66,321.28 L840.61,321.28 L841.57,321.28 L842.52,321.28 L843.47,321.28 L844.43,321.28 L845.38,321.28 L846.34,321.28 L847.29,321.28 L848.25,321.28 L849.20,321.28 L850.15,321.28 L851.11,321.28 L852.06,321.28 L853.02,321.28 L853.97,321.29 L854.92,321.29 L855.88,321.29 L856.83,321.29 L857.79,321.29 L858.74,321.29 L859.69,321.29 L860.65,321.29 L861.60,321.29 L862.56,321.29 L863.51,321.29 L864.47,321.29 L865.42,321.29 L866.37,321.29 L867.33,321.29 L868.28,321.29 L869.24,321.29 L870.19,321.29 L871.14,321.29 L872.10,321.29 L873.05,321.29 L874.01,321.29 L874.96,321.29 L875.92,321.29 L876.87,321.29 L877.82,321.29 L878.78,321.29 L879.73,321.29 L880.69,321.29 L881.64,321.29 L882.59,321.29 L883.55,321.30 L884.50,321.30 L885.46,321.30 L886.41,321.30 L887.36,321.30 L888.32,321.30 L889.27,321.30 L890.23,321.30 L891.18,321.30 L892.14,321.30 L893.09,321.30 L894.04,321.30 L895.00,321.30 L895.95,321.30 L896.91,321.30 L897.86,321.30 L898.81,321.30 L899.77,321.30 L900.72,321.30 L901.68,321.30 L902.63,321.30 L903.58,321.30 L904.54,321.30 L905.49,321.30 L906.45,321.30 L907.40,321.30 L908.36,321.30 L909.31,321.30 L910.26,321.30 L911.22,321.30 L912.17,321.30 L913.13,321.30 L914.08,321.30 L915.03,321.30 L915.99,321.30 L916.94,321.30 L917.90,321.30 L918.85,321.30 L919.81,321.30 L920.76,321.30 L921.71,321.30 L922.67,321.30 L923.62,321.30 L924.58,321.30 L925.53,321.30 L926.48,321.30 L927.44,321.30 L928.39,321.30 L929.35,321.30 L930.30,321.30 L931.25,321.30 L932.21,321.30 L933.16,321.30 L934.12,321.30 L935.07,321.30 L936.03,321.30 L936.98,321.30 L937.93,321.30 L938.89,321.30 L939.84,321.30 L940.80,321.30 L941.75,321.30 L942.70,321.30 L943.66,321.30 L944.61,321.30 L945.57,321.30 L946.52,321.30 L947.48,321.30 L948.43,321.30 L949.38,321.30 L950.34,321.30 L951.29,321.30 L952.25,321.30 L953.20,321.30" stroke="#000000" stroke-width="2.2" fill="none"/>
<path d="M572.50,15.00 L573.14,17.91 L573.77,20.83 L574.41,23.76 L575.04,26.70 L575.68,29.65 L576.31,32.61 L576.95,35.56 L577.58,38.51 L578.22,41.46 L578.86,44.40 L579.49,47.33 L580.13,50.25 L580.76,53.16 L581.40,56.05 L582.03,58.92 L582.67,61.78 L583.30,64.60 L583.94,67.40 L584.58,70.17 L585.21,72.91 L585.85,75.62 L586.48,78.29 L587.12,80.92 L587.75,83.51 L588.39,86.05 L589.02,88.55 L589.66,91.00 L590.30,93.40 L590.93,95.75 L591.57,98.06 L592.20,100.32 L592.84,102.53 L593.47,104.70 L594.11,106.83 L594.74,108.92 L595.38,110.97 L596.02,112.97 L596.65,114.94 L597.29,116.87 L597.92,118.77 L598.56,120.63 L599.19,122.46 L599.83,124.25 L600.46,126.02 L601.10,127.75 L601.74,129.45 L602.37,131.13 L603.01,132.77 L603.64,134.40 L604.28,135.99 L604.91,137.56 L605.55,139.11 L606.18,140.64 L606.82,142.15 L607.46,143.64 L608.09,145.11 L608.73,146.56 L609.36,148.00 L610.00,149.42 L610.63,150.83 L611.27,152.22 L611.90,153.60 L612.54,154.97 L613.18,156.33 L613.81,157.67 L614.45,159.00 L615.08,160.31 L615.72,161.62 L616.35,162.91 L616.99,164.19 L617.62,165.45 L618.26,166.70 L618.90,167.94 L619.53,169.17 L620.17,170.39 L620.80,171.59 L621.44,172.78 L622.07,173.96 L622.71,175.12 L623.34,176.28 L623.98,177.42 L624.62,178.55 L625.25,179.66 L625.89,180.77 L626.52,181.86 L627.16,182.94 L627.79,184.01 L628.43,185.07 L629.06,186.11 L629.70,187.14 L630.34,188.17 L630.97,189.18 L631.61,190.17 L632.24,191.16 L632.88,192.13 L633.51,193.10 L634.15,194.05 L634.78,194.99 L635.42,195.92 L636.06,196.84 L636.69,197.74 L637.33,198.64 L637.96,199.52 L638.60,200.39 L639.23,201.25 L639.87,202.11 L640.50,202.94 L641.14,203.77 L641.78,204.59 L642.41,205.40 L643.05,206.19 L643.68,206.98 L644.32,207.75 L644.95,208.52 L645.59,209.27 L646.22,210.01 L646.86,210.74 L647.50,211.46 L648.13,212.17 L648.77,212.87 L649.40,213.56 L650.04,214.24 L650.67,214.91 L651.31,215.57 L651.94,216.22 L652.58,216.86 L653.22,217.49 L653.85,218.11 L654.49,218.73 L655.12,219.33 L655.76,219.92 L656.39,220.51 L657.03,221.09 L657.66,221.66 L658.30,222.23 L658.94,222.79 L659.57,223.34 L660.21,223.88 L660.84,224.42 L661.48,224.95 L662.11,225.48 L662.75,226.00 L663.38,226.51 L664.02,227.02 L664.66,227.53 L665.29,228.03 L665.93,228.52 L666.56,229.01 L667.20,229.50 L667.83,229.98 L668.47,230.47 L669.11,230.94 L669.74,231.42 L670.38,231.89 L671.01,232.36 L671.65,232.83 L672.28,233.29 L672.92,233.75 L673.55,234.22 L674.19,234.68 L674.83,235.14 L675.46,235.60 L676.10,236.06 L676.73,236.52 L677.37,236.98 L678.00,237.43 L678.64,237.89 L679.27,238.35 L679.91,238.82 L680.55,239.28 L681.18,239.74 L681.82,240.21 L682.45,240.68 L683.09,241.14 L683.72,241.61 L684.36,242.08 L684.99,242.55 L685.63,243.02 L686.27,243.49 L686.90,243.96 L687.54,244.44 L688.17,244.91 L688.81,245.38 L689.44,245.85 L690.08,246.32 L690.71,246.79 L691.35,247.25 L691.99,247.72 L692.62,248.19 L693.26,248.65 L693.89,249.12 L694.53,249.58 L695.16,250.04 L695.80,250.50 L696.43,250.95 L697.07,251.41 L697.71,251.86 L698.34,252.31 L698.98,252.75 L699.61,253.20 L700.25,253.64 L700.88,254.08 L701.52,254.52 L702.15,254.95 L702.79,255.38 L703.43,255.80 L704.06,256.22 L704.70,256.64 L705.33,257.06 L705.97,257.47 L706.60,257.87 L707.24,258.27 L707.87,258.67 L708.51,259.06 L709.15,259.45 L709.78,259.83 L710.42,260.21 L711.05,260.58 L711.69,260.95 L712.32,261.31 L712.96,261.67 L713.59,262.02 L714.23,262.36 L714.87,262.71 L715.50,263.04 L716.14,263.37 L716.77,263.70 L717.41,264.02 L718.04,264.34 L718.68,264.65 L719.31,264.96 L719.95,265.26 L720.59,265.56 L721.22,265.86 L721.86,266.14 L722.49,266.43 L723.13,266.71 L723.76,266.99 L724.40,267.26 L725.03,267.52 L725.67,267.79 L726.31,268.05 L726.94,268.30 L727.58,268.55 L728.21,268.80 L728.85,269.04 L729.48,269.28 L730.12,269.51 L730.75,269.74 L731.39,269.97 L732.03,270.19 L732.66,270.41 L733.30,270.63 L733.93,270.84 L734.57,271.05 L735.20,271.25 L735.84,271.45 L736.47,271.65 L737.11,271.84 L737.75,272.04 L738.38,272.22 L739.02,272.41 L739.65,272.59 L740.29,272.76 L740.92,272.94 L741.56,273.11 L742.19,273.28 L742.83,273.44 L743.47,273.60 L744.10,273.76 L744.74,273.92 L745.37,274.07 L746.01,274.22 L746.64,274.36 L747.28,274.51 L747.91,274.65 L748.55,274.79 L749.19,274.92 L749.82,275.06 L750.46,275.19 L751.09,275.32 L751.73,275.44 L752.36,275.57 L753.00,275.69 L753.63,275.81 L754.27,275.92 L754.91,276.04 L755.54,276.15 L756.18,276.26 L756.81,276.37 L757.45,276.47 L758.08,276.57 L758.72,276.68 L759.35,276.77 L759.99,276.87 L760.63,276.97 L761.26,277.06 L761.90,277.15 L762.53,277.24 L763.17,277.33 L763.80,277.42 L764.44,277.51 L765.07,277.59 L765.71,277.67 L766.35,277.75 L766.98,277.83 L767.62,277.91 L768.25,277.99 L768.89,278.06 L769.52,278.14 L770.16,278.21 L770.79,278.28 L771.43,278.35 L772.07,278.42 L772.70,278.49 L773.34,278.56 L773.97,278.62 L774.61,278.69 L775.24,278.75 L775.88,278.82 L776.51,278.88 L777.15,278.94 L777.79,279.00 L778.42,279.07 L779.06,279.13 L779.69,279.19 L780.33,279.24 L780.96,279.30 L781.60,279.36 L782.23,279.42 L782.87,279.48 L783.51,279.53 L784.14,279.59 L784.78,279.65 L785.41,279.71 L786.05,279.76 L786.68,279.82 L787.32,279.87 L787.95,279.93 L788.59,279.99 L789.23,280.04 L789.86,280.10 L790.50,280.16 L791.13,280.21 L791.77,280.27 L792.40,280.32 L793.04,280.38 L793.67,280.43 L794.31,280.49 L794.95,280.54 L795.58,280.60 L796.22,280.65 L796.85,280.71 L797.49,280.76 L798.12,280.82 L798.76,280.87 L799.39,280.93 L800.03,280.98 L800.67,281.03 L801.30,281.09 L801.94,281.14 L802.57,281.20 L803.21,281.25 L803.84,281.31 L804.48,281.36 L805.11,281.41 L805.75,281.47 L806.39,281.52 L807.02,281.57 L807.66,281.63 L808.29,281.68 L808.93,281.74 L809.56,281.79 L810.20,281.84 L810.83,281.90 L811.47,281.95 L812.11,282.00 L812.74,282.06 L813.38,282.11 L814.01,282.16 L814.65,282.21 L815.28,282.27 L815.92,282.32 L816.55,282.37 L817.19,282.43 L817.83,282.48 L818.46,282.53 L819.10,282.59 L819.73,282.64 L820.37,282.69 L821.00,282.74 L821.64,282.80 L822.27,282.85 L822.91,282.90 L823.55,282.96 L824.18,283.01 L824.82,283.06 L825.45,283.11 L826.09,283.17 L826.72,283.22 L827.36,283.27 L827.99,283.32 L828.63,283.38 L829.27,283.43 L829.90,283.48 L830.54,283.54 L831.17,283.59 L831.81,283.64 L832.44,283.69 L833.08,283.75 L833.71,283.80 L834.35,283.85 L834.99,283.91 L835.62,283.96 L836.26,284.01 L836.89,284.06 L837.53,284.12 L838.16,284.17 L838.80,284.22 L839.43,284.28 L840.07,284.33 L840.71,284.38 L841.34,284.44 L841.98,284.49 L842.61,284.54 L843.25,284.60 L843.88,284.65 L844.52,284.70 L845.15,284.76 L845.79,284.81 L846.43,284.86 L847.06,284.92 L847.70,284.97 L848.33,285.03 L848.97,285.08 L849.60,285.13 L850.24,285.19 L850.87,285.24 L851.51,285.30 L852.15,285.35 L852.78,285.40 L853.42,285.46 L854.05,285.51 L854.69,285.57 L855.32,285.62 L855.96,285.68 L856.59,285.73 L857.23,285.79 L857.87,285.84 L858.50,285.90 L859.14,285.95 L859.77,286.01 L860.41,286.06 L861.04,286.12 L861.68,286.17 L862.32,286.23 L862.95,286.28 L863.59,286.34 L864.22,286.40 L864.86,286.45 L865.49,286.51 L866.13,286.56 L866.76,286.62 L867.40,286.68 L868.04,286.73 L868.67,286.79 L869.31,286.85 L869.94,286.90 L870.58,286.96 L871.21,287.02 L871.85,287.08 L872.48,287.13 L873.12,287.19 L873.76,287.25 L874.39,287.31 L875.03,287.36 L875.66,287.42 L876.30,287.48 L876.93,287.54 L877.57,287.60 L878.20,287.66 L878.84,287.71 L879.48,287.77 L880.11,287.83 L880.75,287.89 L881.38,287.95 L882.02,288.01 L882.65,288.07 L883.29,288.13 L883.92,288.19 L884.56,288.25 L885.20,288.31 L885.83,288.37 L886.47,288.43 L887.10,288.49 L887.74,288.56 L888.37,288.62 L889.01,288.68 L889.64,288.74 L890.28,288.80 L890.92,288.86 L891.55,288.93 L892.19,288.99 L892.82,289.05 L893.46,289.11 L894.09,289.18 L894.73,289.24 L895.36,289.30 L896.00,289.37 L896.64,289.43 L897.27,289.49 L897.91,289.56 L898.54,289.62 L899.18,289.69 L899.81,289.75 L900.45,289.82 L901.08,289.88 L901.72,289.95 L902.36,290.01 L902.99,290.08 L903.63,290.14 L904.26,290.21 L904.90,290.28 L905.53,290.34 L906.17,290.41 L906.80,290.48 L907.44,290.55 L908.08,290.61 L908.71,290.68 L909.35,290.75 L909.98,290.82 L910.62,290.89 L911.25,290.96 L911.89,291.02 L912.52,291.09 L913.16,291.16 L913.80,291.23 L914.43,291.30 L915.07,291.37 L915.70,291.44 L916.34,291.52 L916.97,291.59 L917.61,291.66 L918.24,291.73 L918.88,291.80 L919.52,291.87 L920.15,291.95 L920.79,292.02 L921.42,292.09 L922.06,292.16 L922.69,292.24 L923.33,292.31 L923.96,292.39 L924.60,292.46 L925.24,292.53 L925.87,292.61 L926.51,292.69 L927.14,292.76 L927.78,292.84 L928.41,292.91 L929.05,292.99 L929.68,293.07 L930.32,293.14 L930.96,293.22 L931.59,293.30 L932.23,293.38 L932.86,293.45 L933.50,293.53 L934.13,293.61 L934.77,293.69 L935.40,293.77 L936.04,293.85 L936.68,293.93 L937.31,294.01 L937.95,294.09 L938.58,294.17 L939.22,294.25 L939.85,294.33 L940.49,294.42 L941.12,294.50 L941.76,294.58 L942.40,294.66 L943.03,294.75 L943.67,294.83 L944.30,294.91 L944.94,295.00 L945.57,295.08 L946.21,295.17 L946.84,295.25 L947.48,295.34 L948.12,295.42 L948.75,295.51 L949.39,295.60 L950.02,295.69 L950.66,295.77 L951.29,295.86 L951.93,295.95 L952.56,296.04 L953.20,296.13" stroke="#ff0a1e" stroke-width="2.2" fill="none"/>
<path d="M572.50,15.18 L573.14,16.19 L573.77,17.21 L574.41,18.24 L575.04,19.28 L575.68,20.32 L576.31,21.37 L576.95,22.43 L577.58,23.48 L578.22,24.54 L578.86,25.61 L579.49,26.67 L580.13,27.73 L580.76,28.80 L581.40,29.86 L582.03,30.92 L582.67,31.97 L583.30,33.03 L583.94,34.07 L584.58,35.12 L585.21,36.15 L585.85,37.18 L586.48,38.20 L587.12,39.22 L587.75,40.22 L588.39,41.21 L589.02,42.19 L589.66,43.16 L590.30,44.12 L590.93,45.06 L591.57,45.98 L592.20,46.89 L592.84,47.79 L593.47,48.66 L594.11,49.52 L594.74,50.36 L595.38,51.18 L596.02,51.98 L596.65,52.76 L597.29,53.52 L597.92,54.25 L598.56,54.96 L599.19,55.64 L599.83,56.31 L600.46,56.95 L601.10,57.58 L601.74,58.19 L602.37,58.78 L603.01,59.36 L603.64,59.93 L604.28,60.48 L604.91,61.02 L605.55,61.56 L606.18,62.08 L606.82,62.61 L607.46,63.12 L608.09,63.63 L608.73,64.14 L609.36,64.65 L610.00,65.16 L610.63,65.67 L611.27,66.18 L611.90,66.70 L612.54,67.21 L613.18,67.73 L613.81,68.25 L614.45,68.77 L615.08,69.30 L615.72,69.82 L616.35,70.35 L616.99,70.87 L617.62,71.40 L618.26,71.94 L618.90,72.47 L619.53,73.00 L620.17,73.54 L620.80,74.07 L621.44,74.61 L622.07,75.15 L622.71,75.69 L623.34,76.24 L623.98,76.78 L624.62,77.32 L625.25,77.87 L625.89,78.42 L626.52,78.97 L627.16,79.52 L627.79,80.07 L628.43,80.62 L629.06,81.17 L629.70,81.73 L630.34,82.28 L630.97,82.84 L631.61,83.39 L632.24,83.95 L632.88,84.51 L633.51,85.07 L634.15,85.63 L634.78,86.19 L635.42,86.75 L636.06,87.31 L636.69,87.88 L637.33,88.44 L637.96,89.01 L638.60,89.57 L639.23,90.14 L639.87,90.70 L640.50,91.27 L641.14,91.84 L641.78,92.40 L642.41,92.97 L643.05,93.54 L643.68,94.11 L644.32,94.68 L644.95,95.25 L645.59,95.82 L646.22,96.39 L646.86,96.96 L647.50,97.53 L648.13,98.10 L648.77,98.67 L649.40,99.24 L650.04,99.81 L650.67,100.39 L651.31,100.96 L651.94,101.53 L652.58,102.11 L653.22,102.68 L653.85,103.26 L654.49,103.83 L655.12,104.41 L655.76,104.99 L656.39,105.57 L657.03,106.15 L657.66,106.73 L658.30,107.31 L658.94,107.90 L659.57,108.48 L660.21,109.07 L660.84,109.66 L661.48,110.25 L662.11,110.84 L662.75,111.44 L663.38,112.03 L664.02,112.63 L664.66,113.23 L665.29,113.83 L665.93,114.43 L666.56,115.04 L667.20,115.65 L667.83,116.26 L668.47,116.87 L669.11,117.48 L669.74,118.10 L670.38,118.72 L671.01,119.34 L671.65,119.97 L672.28,120.59 L672.92,121.22 L673.55,121.86 L674.19,122.49 L674.83,123.13 L675.46,123.77 L676.10,124.42 L676.73,125.07 L677.37,125.72 L678.00,126.37 L678.64,127.03 L679.27,127.69 L679.91,128.35 L680.55,129.02 L681.18,129.69 L681.82,130.37 L682.45,131.05 L683.09,131.73 L683.72,132.42 L684.36,133.11 L684.99,133.80 L685.63,134.50 L686.27,135.21 L686.90,135.91 L687.54,136.62 L688.17,137.34 L688.81,138.06 L689.44,138.78 L690.08,139.51 L690.71,140.25 L691.35,140.98 L691.99,141.73 L692.62,142.47 L693.26,143.23 L693.89,143.98 L694.53,144.75 L695.16,145.51 L695.80,146.28 L696.43,147.06 L697.07,147.83 L697.71,148.61 L698.34,149.40 L698.98,150.18 L699.61,150.97 L700.25,151.76 L700.88,152.56 L701.52,153.35 L702.15,154.15 L702.79,154.95 L703.43,155.75 L704.06,156.55 L704.70,157.35 L705.33,158.15 L705.97,158.96 L706.60,159.76 L707.24,160.56 L707.87,161.36 L708.51,162.17 L709.15,162.97 L709.78,163.77 L710.42,164.57 L711.05,165.36 L711.69,166.16 L712.32,166.95 L712.96,167.75 L713.59,168.54 L714.23,169.32 L714.87,170.11 L715.50,170.89 L716.14,171.67 L716.77,172.45 L717.41,173.22 L718.04,173.99 L718.68,174.76 L719.31,175.52 L719.95,176.28 L720.59,177.03 L721.22,177.78 L721.86,178.52 L722.49,179.26 L723.13,180.00 L723.76,180.72 L724.40,181.45 L725.03,182.17 L725.67,182.88 L726.31,183.58 L726.94,184.28 L727.58,184.97 L728.21,185.66 L728.85,186.34 L729.48,187.01 L730.12,187.68 L730.75,188.33 L731.39,188.98 L732.03,189.63 L732.66,190.26 L733.30,190.88 L733.93,191.50 L734.57,192.11 L735.20,192.71 L735.84,193.30 L736.47,193.88 L737.11,194.45 L737.75,195.02 L738.38,195.57 L739.02,196.12 L739.65,196.66 L740.29,197.19 L740.92,197.71 L741.56,198.22 L742.19,198.73 L742.83,199.23 L743.47,199.72 L744.10,200.20 L744.74,200.68 L745.37,201.15 L746.01,201.61 L746.64,202.07 L747.28,202.52 L747.91,202.96 L748.55,203.40 L749.19,203.83 L749.82,204.25 L750.46,204.67 L751.09,205.09 L751.73,205.49 L752.36,205.90 L753.00,206.29 L753.63,206.68 L754.27,207.07 L754.91,207.45 L755.54,207.83 L756.18,208.20 L756.81,208.57 L757.45,208.93 L758.08,209.29 L758.72,209.65 L759.35,210.00 L759.99,210.35 L760.63,210.69 L761.26,211.03 L761.90,211.37 L762.53,211.70 L763.17,212.04 L763.80,212.36 L764.44,212.69 L765.07,213.01 L765.71,213.33 L766.35,213.65 L766.98,213.97 L767.62,214.28 L768.25,214.59 L768.89,214.90 L769.52,215.21 L770.16,215.52 L770.79,215.82 L771.43,216.13 L772.07,216.43 L772.70,216.73 L773.34,217.03 L773.97,217.33 L774.61,217.63 L775.24,217.93 L775.88,218.22 L776.51,218.51 L777.15,218.81 L777.79,219.10 L778.42,219.39 L779.06,219.68 L779.69,219.96 L780.33,220.25 L780.96,220.53 L781.60,220.82 L782.23,221.10 L782.87,221.38 L783.51,221.66 L784.14,221.93 L784.78,222.21 L785.41,222.49 L786.05,222.76 L786.68,223.03 L787.32,223.30 L787.95,223.57 L788.59,223.84 L789.23,224.11 L789.86,224.38 L790.50,224.64 L791.13,224.90 L791.77,225.17 L792.40,225.43 L793.04,225.69 L793.67,225.95 L794.31,226.21 L794.95,226.46 L795.58,226.72 L796.22,226.97 L796.85,227.22 L797.49,227.47 L798.12,227.72 L798.76,227.97 L799.39,228.22 L800.03,228.47 L800.67,228.71 L801.30,228.96 L801.94,229.20 L802.57,229.44 L803.21,229.68 L803.84,229.92 L804.48,230.16 L805.11,230.40 L805.75,230.64 L806.39,230.87 L807.02,231.10 L807.66,231.34 L808.29,231.57 L808.93,231.80 L809.56,232.03 L810.20,232.26 L810.83,232.48 L811.47,232.71 L812.11,232.93 L812.74,233.16 L813.38,233.38 L814.01,233.60 L814.65,233.82 L815.28,234.04 L815.92,234.26 L816.55,234.48 L817.19,234.69 L817.83,234.91 L818.46,235.12 L819.10,235.33 L819.73,235.55 L820.37,235.76 L821.00,235.97 L821.64,236.17 L822.27,236.38 L822.91,236.59 L823.55,236.79 L824.18,237.00 L824.82,237.20 L825.45,237.40 L826.09,237.60 L826.72,237.80 L827.36,238.00 L827.99,238.20 L828.63,238.40 L829.27,238.59 L829.90,238.79 L830.54,238.98 L831.17,239.18 L831.81,239.37 L832.44,239.56 L833.08,239.75 L833.71,239.94 L834.35,240.13 L834.99,240.31 L835.62,240.50 L836.26,240.68 L836.89,240.87 L837.53,241.05 L838.16,241.23 L838.80,241.42 L839.43,241.60 L840.07,241.78 L840.71,241.95 L841.34,242.13 L841.98,242.31 L842.61,242.48 L843.25,242.66 L843.88,242.83 L844.52,243.01 L845.15,243.18 L845.79,243.35 L846.43,243.52 L847.06,243.69 L847.70,243.86 L848.33,244.02 L848.97,244.19 L849.60,244.36 L850.24,244.52 L850.87,244.68 L851.51,244.85 L852.15,245.01 L852.78,245.17 L853.42,245.33 L854.05,245.49 L854.69,245.65 L855.32,245.81 L855.96,245.97 L856.59,246.12 L857.23,246.28 L857.87,246.43 L858.50,246.59 L859.14,246.74 L859.77,246.89 L860.41,247.04 L861.04,247.19 L861.68,247.34 L862.32,247.49 L862.95,247.64 L863.59,247.79 L864.22,247.93 L864.86,248.08 L865.49,248.22 L866.13,248.37 L866.76,248.51 L867.40,248.65 L868.04,248.79 L868.67,248.94 L869.31,249.08 L869.94,249.22 L870.58,249.35 L871.21,249.49 L871.85,249.63 L872.48,249.77 L873.12,249.90 L873.76,250.04 L874.39,250.17 L875.03,250.30 L875.66,250.44 L876.30,250.57 L876.93,250.70 L877.57,250.83 L878.20,250.96 L878.84,251.09 L879.48,251.22 L880.11,251.35 L880.75,251.47 L881.38,251.60 L882.02,251.73 L882.65,251.85 L883.29,251.98 L883.92,252.10 L884.56,252.22 L885.20,252.35 L885.83,252.47 L886.47,252.59 L887.10,252.71 L887.74,252.83 L888.37,252.95 L889.01,253.07 L889.64,253.18 L890.28,253.30 L890.92,253.42 L891.55,253.53 L892.19,253.65 L892.82,253.77 L893.46,253.88 L894.09,253.99 L894.73,254.11 L895.36,254.22 L896.00,254.33 L896.64,254.44 L897.27,254.55 L897.91,254.66 L898.54,254.77 L899.18,254.88 L899.81,254.99 L900.45,255.10 L901.08,255.20 L901.72,255.31 L902.36,255.42 L902.99,255.52 L903.63,255.63 L904.26,255.73 L904.90,255.83 L905.53,255.94 L906.17,256.04 L906.80,256.14 L907.44,256.24 L908.08,256.35 L908.71,256.45 L909.35,256.55 L909.98,256.65 L910.62,256.75 L911.25,256.84 L911.89,256.94 L912.52,257.04 L913.16,257.14 L913.80,257.23 L914.43,257.33 L915.07,257.43 L915.70,257.52 L916.34,257.62 L916.97,257.71 L917.61,257.80 L918.24,257.90 L918.88,257.99 L919.52,258.08 L920.15,258.18 L920.79,258.27 L921.42,258.36 L922.06,258.45 L922.69,258.54 L923.33,258.63 L923.96,258.72 L924.60,258.81 L925.24,258.90 L925.87,258.98 L926.51,259.07 L927.14,259.16 L927.78,259.25 L928.41,259.33 L929.05,259.42 L929.68,259.51 L930.32,259.59 L930.96,259.68 L931.59,259.76 L932.23,259.84 L932.86,259.93 L933.50,260.01 L934.13,260.10 L934.77,260.18 L935.40,260.26 L936.04,260.34 L936.68,260.42 L937.31,260.51 L937.95,260.59 L938.58,260.67 L939.22,260.75 L939.85,260.83 L940.49,260.91 L941.12,260.99 L941.76,261.07 L942.40,261.15 L943.03,261.23 L943.67,261.30 L944.30,261.38 L944.94,261.46 L945.57,261.54 L946.21,261.61 L946.84,261.69 L947.48,261.77 L948.12,261.84 L948.75,261.92 L949.39,262.00 L950.02,262.07 L950.66,262.15 L951.29,262.22 L951.93,262.30 L952.56,262.37 L953.20,262.45" stroke="#2233ff" stroke-width="2.2" fill="none"/>

<rect x="568.80" y="11.68" width="7.40" height="7.40" rx="0.6" fill="#000000"/>
<path d="M597.88,218.82 V236.91 M594.68,218.82 H601.08 M594.68,236.91 H601.08" stroke="#000000" stroke-width="1.6" fill="none"/>
<rect x="594.18" y="224.17" width="7.40" height="7.40" rx="0.6" fill="#000000"/>
<path d="M648.64,302.61 V313.16 M645.44,302.61 H651.84 M645.44,313.16 H651.84" stroke="#000000" stroke-width="1.6" fill="none"/>
<rect x="644.94" y="304.19" width="7.40" height="7.40" rx="0.6" fill="#000000"/>

<rect x="695.70" y="313.83" width="7.40" height="7.40" rx="0.6" fill="#000000"/>

<rect x="721.08" y="316.39" width="7.40" height="7.40" rx="0.6" fill="#000000"/>

<rect x="797.22" y="316.85" width="7.40" height="7.40" rx="0.6" fill="#000000"/>

<rect x="873.36" y="317.30" width="7.40" height="7.40" rx="0.6" fill="#000000"/>

<rect x="949.50" y="317.30" width="7.40" height="7.40" rx="0.6" fill="#000000"/>

<circle cx="572.50" cy="15.38" r="4.00" fill="#ff0a1e"/>
<path d="M597.88,126.75 V144.83 M594.68,126.75 H601.08 M594.68,144.83 H601.08" stroke="#ff0a1e" stroke-width="1.6" fill="none"/>
<circle cx="597.88" cy="135.79" r="4.00" fill="#ff0a1e"/>
<path d="M648.64,211.14 V233.74 M645.44,211.14 H651.84 M645.44,233.74 H651.84" stroke="#ff0a1e" stroke-width="1.6" fill="none"/>
<circle cx="648.64" cy="222.44" r="4.00" fill="#ff0a1e"/>
<path d="M699.40,242.48 V260.57 M696.20,242.48 H702.60 M696.20,260.57 H702.60" stroke="#ff0a1e" stroke-width="1.6" fill="none"/>
<circle cx="699.40" cy="251.53" r="4.00" fill="#ff0a1e"/>
<path d="M724.78,265.69 V279.25 M721.58,265.69 H727.98 M721.58,279.25 H727.98" stroke="#ff0a1e" stroke-width="1.6" fill="none"/>
<circle cx="724.78" cy="272.47" r="4.00" fill="#ff0a1e"/>
<path d="M800.92,275.49 V287.54 M797.72,275.49 H804.12 M797.72,287.54 H804.12" stroke="#ff0a1e" stroke-width="1.6" fill="none"/>
<circle cx="800.92" cy="281.52" r="4.00" fill="#ff0a1e"/>
<path d="M877.06,284.23 V290.26 M873.86,284.23 H880.26 M873.86,290.26 H880.26" stroke="#ff0a1e" stroke-width="1.6" fill="none"/>
<circle cx="877.06" cy="287.24" r="4.00" fill="#ff0a1e"/>
<path d="M953.20,294.32 V298.85 M950.00,294.32 H956.40 M950.00,298.85 H956.40" stroke="#ff0a1e" stroke-width="1.6" fill="none"/>
<circle cx="953.20" cy="296.59" r="4.00" fill="#ff0a1e"/>

<path d="M572.50,10.27 L576.94,18.93 L568.06,18.93 Z" fill="#2233ff" stroke="#2233ff" stroke-width="0.8" stroke-linejoin="round"/>
<path d="M597.88,47.63 V65.71 M594.68,47.63 H601.08 M594.68,65.71 H601.08" stroke="#2233ff" stroke-width="1.6" fill="none"/>
<path d="M597.88,51.56 L602.32,60.22 L593.44,60.22 Z" fill="#2233ff" stroke="#2233ff" stroke-width="0.8" stroke-linejoin="round"/>
<path d="M648.64,86.96 V108.06 M645.44,86.96 H651.84 M645.44,108.06 H651.84" stroke="#2233ff" stroke-width="1.6" fill="none"/>
<path d="M648.64,92.40 L653.08,101.06 L644.20,101.06 Z" fill="#2233ff" stroke="#2233ff" stroke-width="0.8" stroke-linejoin="round"/>
<path d="M699.40,139.25 V157.34 M696.20,139.25 H702.60 M696.20,157.34 H702.60" stroke="#2233ff" stroke-width="1.6" fill="none"/>
<path d="M699.40,143.19 L703.84,151.85 L694.96,151.85 Z" fill="#2233ff" stroke="#2233ff" stroke-width="0.8" stroke-linejoin="round"/>
<path d="M724.78,184.01 V197.58 M721.58,184.01 H727.98 M721.58,197.58 H727.98" stroke="#2233ff" stroke-width="1.6" fill="none"/>
<path d="M724.78,185.69 L729.22,194.35 L720.34,194.35 Z" fill="#2233ff" stroke="#2233ff" stroke-width="0.8" stroke-linejoin="round"/>
<path d="M800.92,225.15 V241.73 M797.72,225.15 H804.12 M797.72,241.73 H804.12" stroke="#2233ff" stroke-width="1.6" fill="none"/>
<path d="M800.92,228.34 L805.36,236.99 L796.48,236.99 Z" fill="#2233ff" stroke="#2233ff" stroke-width="0.8" stroke-linejoin="round"/>
<path d="M877.06,246.55 V257.10 M873.86,246.55 H880.26 M873.86,257.10 H880.26" stroke="#2233ff" stroke-width="1.6" fill="none"/>
<path d="M877.06,246.72 L881.50,255.38 L872.62,255.38 Z" fill="#2233ff" stroke="#2233ff" stroke-width="0.8" stroke-linejoin="round"/>
<path d="M953.20,257.10 V269.16 M950.00,257.10 H956.40 M950.00,269.16 H956.40" stroke="#2233ff" stroke-width="1.6" fill="none"/>
<path d="M953.20,258.02 L957.64,266.68 L948.76,266.68 Z" fill="#2233ff" stroke="#2233ff" stroke-width="0.8" stroke-linejoin="round"/>
<path d="M819.00,59.00 H855.80" stroke="#000000" stroke-width="2.2"/>
<rect x="834.40" y="55.60" width="6.80" height="6.80" rx="0.6" fill="#000000"/>
<text x="860.50" y="65.00" class="lg">25 °C</text>
<path d="M819.00,79.70 H855.80" stroke="#ff0a1e" stroke-width="2.2"/>
<circle cx="837.80" cy="79.70" r="3.70" fill="#ff0a1e"/>
<text x="860.50" y="85.70" class="lg">4 °C</text>
<path d="M819.00,100.20 H855.80" stroke="#2233ff" stroke-width="2.2"/>
<path d="M837.80,95.51 L841.88,103.46 L833.72,103.46 Z" fill="#2233ff" stroke="#2233ff" stroke-width="0.8" stroke-linejoin="round"/>
<text x="860.50" y="106.20" class="lg">-20 °C</text>
<text x="600" y="40.5" class="pl">(b)</text>
<text x="762.9" y="386.1" class="ax" text-anchor="middle">Post-discharge time (h)</text>
<text transform="translate(507.4,0) rotate(-90)" x="-277.4" class="ax">Peroxynitrite (<tspan style="font-size:25.2px">μM)</tspan></text>
</svg>
</body></html>
